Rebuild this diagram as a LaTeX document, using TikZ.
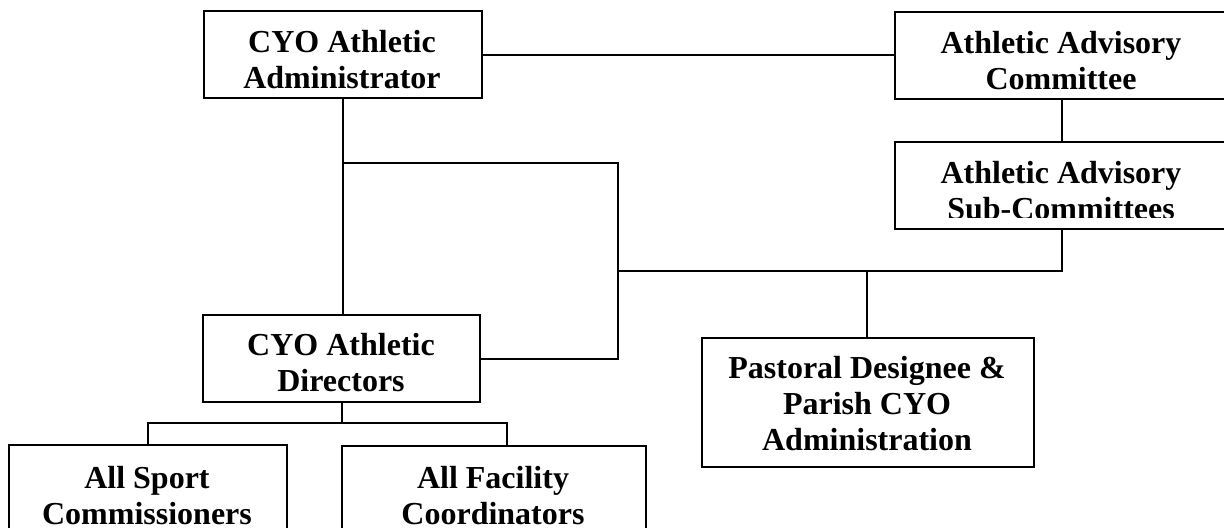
\documentclass[tikz,border=0pt]{standalone}
\usepackage{fontspec}
\setmainfont{Liberation Serif}
\begin{document}
\begin{tikzpicture}[x=0.5pt,y=-0.5pt,
  box/.style={draw, line width=1pt, inner sep=0pt, anchor=north west},
  txt/.style={inner sep=0pt, anchor=north, align=center, font=\fontsize{16pt}{18pt}\selectfont\bfseries},
  link/.style={line width=1pt}]
\useasboundingbox (0,0) rectangle (1224,527);
% boxes
\node[box, minimum width=139pt, minimum height=43.5pt] (A) at (203,10) {};
\node[box, minimum width=167pt, minimum height=43.5pt] (B) at (894,11) {};
\node[box, minimum width=167pt, minimum height=43.5pt] (C) at (894,141) {};
\node[box, minimum width=138.5pt, minimum height=43.5pt] (D) at (202,314) {};
\node[box, minimum width=166pt, minimum height=64.5pt] (P) at (701,337) {};
\node[box, minimum width=139pt, minimum height=60pt] (S) at (8,444) {};
\node[box, minimum width=152pt, minimum height=60pt] (F) at (341,445) {};
% texts
\node[txt] (At) at (342,30) {CYO Athletic\\Administrator};
\node[txt] (Bt) at (1061,31) {Athletic Advisory\\Committee};
\begin{scope}
\clip (894,141) rectangle (1228,217);
\node[txt] (Ct) at (1061,161) {Athletic Advisory\\Sub-Committees};
\end{scope}
\node[txt] (Dt) at (341,333) {CYO Athletic\\Directors};
\node[txt] (Pt) at (867,356) {Pastoral Designee \&\\Parish CYO\\Administration};
\node[txt] (St) at (147,466) {All Sport\\Commissioners};
\node[txt] (Ft) at (493,466) {All Facility\\Coordinators};
% junctions
\coordinate (j1) at (342,163);
\coordinate (j2) at (618,163);
\coordinate (j3) at (618,271);
\coordinate (j4) at (867,271);
\coordinate (j5) at (341,423);
\coordinate (j6) at (507,423);
% connectors
\draw[link] (A.east) -- (A.east -| B.west);
\draw[link] (B.south) -- (C.north);
\draw[link] (A.south) -- (A.south |- D.north);
\draw[link] (j1) -- (j2) -- (j2 |- D.east) -- (D.east);
\draw[link] (j3) -- (j3 -| C.south) -- (C.south);
\draw[link] (j4) -- (j4 |- P.north);
\draw[link] (D.south) -- (D.south |- j5);
\draw[link] (S.north) |- (j6) -- (j6 |- F.north);
\end{tikzpicture}
\end{document}
